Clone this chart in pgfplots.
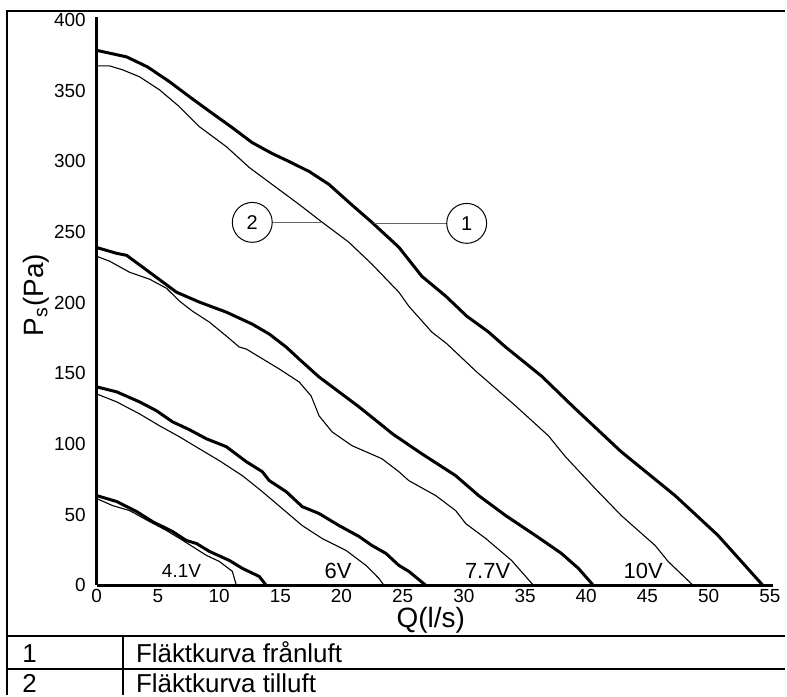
\documentclass[border=0pt]{standalone}
\usepackage{fontspec}
\setmainfont{Liberation Sans}
\usepackage{pgfplots}
\pgfplotsset{compat=1.18}
\begin{document}
\begin{tikzpicture}
\begin{scope}[x=0.5pt,y=-0.5pt]
\path[use as bounding box] (0,0) rectangle (787,697);
\end{scope}
\begin{axis}[
  at={(48.5pt,-293.5pt)}, anchor=south west,
  scale only axis, width=339.35pt, height=284.9pt,
  xmin=0, xmax=55.3, ymin=0, ymax=402,
  axis x line=bottom, axis y line=left,
  axis line style={-, line width=1.5pt},
  xtick={0,5,...,55}, ytick={0,50,...,400},
  major tick length=0pt,
  /pgf/number format/assume math mode=true,
  tick label style={font=\fontsize{9.5}{11}\selectfont},
  yticklabel style={xshift=-2pt},
  xticklabel style={yshift=1.5pt},
  clip=false,
]
% 10V fan curve 1 (thick)
\addplot[black, line width=1.5pt] coordinates {
(0,378.5) (2.44,373.9) (4.15,366.8) (5.95,356.3) (7.58,345.7) (9.37,334.4) (11.08,323.8) (12.71,313.2) (14.34,305.5) (15.73,299.8) (17.36,292.8) (18.99,283.6) (20.62,270.9) (22.49,256.8) (24.69,239.2) (26.56,218.7) (28.52,204.6) (30.23,190.5) (32.02,179.2) (33.41,168.6) (36.34,148.1) (39.11,124.9) (42.86,94.5) (47.26,63.5) (50.77,35.3) (54.43,0)};
% 10V fan curve 2 (thin)
\addplot[black, line width=0.55pt] coordinates {
(0,367.5) (1.06,367.5) (2.12,364.7) (3.50,359.8) (5.13,350.6) (6.76,338.6) (8.39,324.5) (10.59,310.4) (12.47,295.6) (14.34,283.6) (16.54,269.5) (18.33,257.5) (20.61,242.7) (22.49,227.2) (24.69,207.4) (25.5,197.5) (27.38,179.2) (28.6,171.0) (30.96,151.7) (34.22,127.0) (36.91,105.8) (38.30,91.0) (40.74,68.4) (42.86,49.4) (45.63,28.2) (46.69,16.9) (48.73,0)};
% 7.7V thick
\addplot[black, line width=1.5pt] coordinates {
(0,239) (1.63,234.9) (2.44,233.5) (4.32,221.5) (6.52,207.4) (8.39,200.4) (10.59,193.3) (12.71,184.8) (14.10,177.8) (15.48,168.6) (16.54,160.1) (18.17,147.4) (21.43,126.3) (24.2,107.0) (26.56,93.1) (29.33,77.6) (31.21,63.5) (33.41,49.4) (35.85,35.3) (37.97,22.6) (39.36,12.0) (40.58,0)};
% 7.7V thin
\addplot[black, line width=0.55pt] coordinates {
(0,232.8) (1.06,229.3) (2.69,221.5) (4.32,216.6) (5.70,210.2) (6.76,201.1) (7.82,194.0) (9.21,186.2) (10.59,176.4) (11.65,168.6) (12.22,167.2) (14.91,153.1) (16.54,143.9) (17.52,134.0) (18.17,119.9) (19.23,108.6) (20.86,98.8) (23.30,89.6) (24.69,80.4) (25.50,74.1) (27.70,63.5) (29.33,52.9) (30.15,43.7) (31.78,33.2) (33.90,17.6) (35.69,0)};
% 6V thick
\addplot[black, line width=1.5pt] coordinates {
(0,140.4) (1.63,136.9) (3.50,129.8) (4.89,123.5) (6.19,115.7) (7.58,110.1) (8.96,103.7) (10.59,98.1) (12.22,87.5) (13.53,80.4) (14.10,74.1) (15.48,66.3) (16.79,55.7) (18.17,50.8) (19.80,42.3) (21.43,34.6) (22.49,28.2) (23.63,22.6) (24.69,14.1) (25.50,9.9) (26.89,0)};
% 6V thin
\addplot[black, line width=0.55pt] coordinates {
(0,135.4) (1.63,129.8) (3.50,121.3) (5.13,112.9) (6.76,105.1) (8.39,96.6) (10.02,88.2) (11.90,77.6) (13.53,66.3) (15.16,54.3) (16.79,42.3) (18.41,33.2) (20.37,24.7) (22.00,14.1) (23.06,4.9) (23.47,0)};
% 4.1V thick
\addplot[black, line width=1.5pt] coordinates {
(0,63.5) (1.63,59.3) (3.26,52.2) (4.56,45.1) (6.19,38.1) (7.33,31.7) (8.15,29.6) (9.21,24.0) (10.84,17.6) (11.90,12.0) (13.28,6.3) (13.85,0)};
% 4.1V thin
\addplot[black, line width=0.55pt] coordinates {
(0,61.4) (1.30,56.4) (2.69,52.9) (4.32,45.1) (5.70,38.8) (6.76,33.2) (7.82,27.5) (8.96,21.2) (10.02,16.9) (11.08,9.9) (11.41,0)};
\end{axis}
\begin{scope}[x=0.5pt,y=-0.5pt]
% frame and table
\draw[line width=1.3pt] (7,697) -- (7,11) -- (787,11);
\draw[line width=1pt] (7,638) -- (787,638);
\draw[line width=1pt] (7,671) -- (787,671);
\draw[line width=1pt] (123,638) -- (123,697);
\begin{scope}[font=\fontsize{13}{15}\selectfont]
\node[anchor=base west, inner sep=0] at (22,664) {1};
\node[anchor=base west, inner sep=0] at (22,694) {2};
\node[anchor=base west, inner sep=0] at (136,664) {Fläktkurva frånluft};
\node[anchor=base west, inner sep=0] at (136,694) {Fläktkurva tilluft};
\end{scope}
% axis labels
\node[font=\fontsize{14}{16}\selectfont] at (432,622) {Q(l/s)};
\node[font=\fontsize{14}{16}\selectfont, rotate=90] at (36,296) {P\textsubscript{s}(Pa)};
% voltage labels
\node[anchor=base, inner sep=0, font=\fontsize{9.5}{11}\selectfont] at (182,579.5) {4.1V};
\node[anchor=base, inner sep=0, font=\fontsize{11}{13}\selectfont] at (339,580) {6V};
\node[anchor=base, inner sep=0, font=\fontsize{11}{13}\selectfont] at (489,580) {7.7V};
\node[anchor=base, inner sep=0, font=\fontsize{11}{13}\selectfont] at (645,580) {10V};
% callouts
\draw[line width=0.7pt, black!60] (273,223) -- (322,223);
\draw[line width=0.7pt, black!60] (375,224) -- (448,224);
\node[draw, circle, line width=0.5pt, minimum size=20pt, inner sep=0, font=\fontsize{10}{12}\selectfont] at (253,223) {2};
\node[draw, circle, line width=0.5pt, minimum size=20pt, inner sep=0, font=\fontsize{10}{12}\selectfont] at (468,224) {1};
\end{scope}
\end{tikzpicture}
\end{document}
